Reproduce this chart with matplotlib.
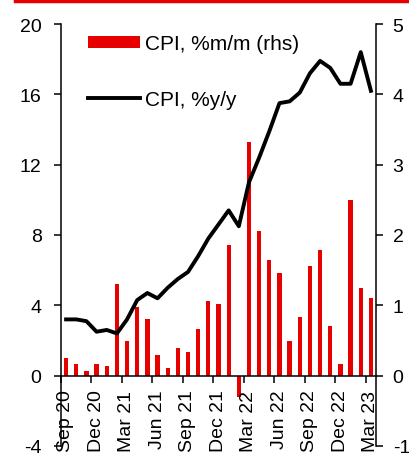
import matplotlib
matplotlib.use('Agg')
import matplotlib.pyplot as plt
import matplotlib.transforms as mtransforms
from matplotlib.lines import Line2D
import numpy as np

plt.rcParams['font.family'] = ['Liberation Sans', 'DejaVu Sans']
plt.rcParams['axes.unicode_minus'] = False

months = ['Sep 20', 'Oct 20', 'Nov 20', 'Dec 20', 'Jan 21', 'Feb 21', 'Mar 21', 'Apr 21',
          'May 21', 'Jun 21', 'Jul 21', 'Aug 21', 'Sep 21', 'Oct 21', 'Nov 21', 'Dec 21',
          'Jan 22', 'Feb 22', 'Mar 22', 'Apr 22', 'May 22', 'Jun 22', 'Jul 22', 'Aug 22',
          'Sep 22', 'Oct 22', 'Nov 22', 'Dec 22', 'Jan 23', 'Feb 23', 'Mar 23']

# CPI %y/y (left axis)
cpi_yy = [3.2, 3.2, 3.1, 2.5, 2.6, 2.4, 3.2, 4.3, 4.7, 4.4, 5.0, 5.5, 5.9, 6.8, 7.8, 8.6,
          9.4, 8.5, 11.0, 12.4, 13.9, 15.5, 15.6, 16.1, 17.2, 17.9, 17.5, 16.6, 16.6, 18.4, 16.2]

# CPI %m/m (right axis)
cpi_mm = [0.25, 0.16, 0.07, 0.16, 0.14, 1.30, 0.50, 0.98, 0.81, 0.29, 0.11, 0.40, 0.33, 0.67,
          1.06, 1.02, 1.86, -0.31, 3.32, 2.05, 1.65, 1.46, 0.50, 0.84, 1.56, 1.78, 0.71, 0.16,
          2.50, 1.25, 1.10]

tick_idx = list(range(0, len(months), 3))

red = '#E60000'

fig = plt.figure(figsize=(4.10, 4.56), dpi=100)
ax = fig.add_axes([61 / 410, 1 - 447 / 456, 315 / 410, 422 / 456])
ax2 = ax.twinx()

x = np.arange(len(months))
bars = ax2.bar(x, cpi_mm, width=0.42, color=red, label='CPI, %m/m (rhs)')
line, = ax.plot(x, cpi_yy, color='black', lw=2.8, label='CPI, %y/y')

ax.set_zorder(ax2.get_zorder() + 1)
ax.patch.set_visible(False)

ax.set_xlim(-0.5, len(months) - 0.5)
ax.set_ylim(-4, 20)
ax2.set_ylim(-1, 5)
ax.set_yticks(np.arange(-4, 21, 4))
ax2.set_yticks(np.arange(-1, 6, 1))

for a in (ax, ax2):
    a.spines['top'].set_visible(False)
    a.spines['bottom'].set_visible(False)
ax.spines['bottom'].set_visible(True)
ax.spines['bottom'].set_position(('data', 0))
ax.spines['right'].set_visible(False)
ax2.spines['left'].set_visible(False)
for s in ('left', 'bottom'):
    ax.spines[s].set_linewidth(1.1)
ax2.spines['right'].set_linewidth(1.1)

ax.set_xticks(np.array(tick_idx) - 0.5)
ax.set_xticklabels([months[i] for i in tick_idx], rotation=90, fontsize=14)
ax.tick_params(axis='x', length=5, width=1.1, pad=5)
ax.tick_params(axis='y', length=5, width=1.1, labelsize=14, pad=9)
ax2.tick_params(axis='y', length=5, width=1.1, labelsize=14, pad=7)
shift = mtransforms.ScaledTranslation(5 / 100, 0, fig.dpi_scale_trans)
for lbl in ax.get_xticklabels():
    lbl.set_transform(lbl.get_transform() + shift)

ax.legend([bars, line], ['CPI, %m/m (rhs)', 'CPI, %y/y'], loc='upper left',
          bbox_to_anchor=(0.025, 1.02), frameon=False, fontsize=15,
          handlelength=2.5, handleheight=0.5, handletextpad=0.25, labelspacing=1.75)

fig.add_artist(Line2D([15 / 410, 1], [1 - 1.5 / 456, 1 - 1.5 / 456], color=red, lw=2.5,
                      transform=fig.transFigure))

fig.savefig('out.png', dpi=100)
